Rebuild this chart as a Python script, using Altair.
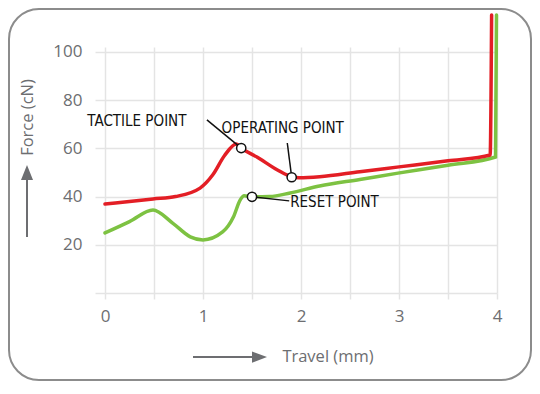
import altair as alt
import pandas as pd

# ---- data ----
press_x = [0, 0.49, 0.72, 0.97, 1.1, 1.22, 1.34, 1.39, 1.55, 1.76, 1.91, 1.98, 2.19, 2.6, 3.0, 3.5, 3.93, 3.945]
press_y = [36.9, 39.0, 40.0, 43.5, 49.0, 57.0, 61.8, 60.1, 56.4, 51.0, 48.1, 47.8, 48.2, 50.3, 52.3, 54.8, 57.2, 115.3]

release_x = [0, 0.25, 0.49, 0.69, 0.87, 1.0, 1.2, 1.31, 1.38, 1.42, 1.5, 1.68, 1.89, 2.19, 2.6, 2.99, 3.5, 3.985, 3.995]
release_y = [24.9, 29.6, 34.4, 29.0, 23.3, 22.0, 25.3, 31.5, 38.6, 40.3, 39.9, 40.0, 41.5, 44.4, 47.1, 49.7, 53.0, 56.4, 115.3]

point_label = ["TACTILE POINT", "OPERATING POINT", "RESET POINT"]
point_x = [1.39, 1.905, 1.50]
point_y = [60.1, 48.0, 39.9]
label_x = [-0.18, 1.19, 1.89]
label_y = [71.3, 68.6, 37.9]
leader_x = [1.04, 1.86, 1.88]
leader_y = [71.8, 62.2, 38.2]

x_ticks = [0, 0.5, 1, 1.5, 2, 2.5, 3, 3.5, 4]
y_ticks = [0, 20, 40, 60, 80, 100]

x_title = "Travel (mm)"
y_title = "Force (cN)"

# ---- styles ----
GRID = "#e4e4e4"
LBL = "#6d6e71"
RED = "#e31e25"
GREEN = "#7dc242"
AXFONT = "Open Sans"
ANFONT = "Liberation Sans Narrow, DejaVu Sans Condensed, sans-serif"

rows = []
for i, (x, y) in enumerate(zip(release_x, release_y)):
    rows.append({"x": x, "y": y, "series": "Release", "idx": i})
for i, (x, y) in enumerate(zip(press_x, press_y)):
    rows.append({"x": x, "y": y, "series": "Press", "idx": i})
lines_df = pd.DataFrame(rows)

ann_df = pd.DataFrame({
    "label": point_label, "x": point_x, "y": point_y,
    "lx": label_x, "ly": label_y, "qx": leader_x, "qy": leader_y,
})

xscale = alt.Scale(domain=[0, 4], nice=False)
yscale = alt.Scale(domain=[0, 102], nice=False, zero=False)

xaxis = alt.Axis(values=x_ticks,
                 labelExpr="datum.value % 1 === 0 ? format(datum.value, 'd') : ''",
                 grid=True, gridColor=GRID, gridWidth=1.5,
                 ticks=True, tickColor=GRID, tickWidth=1.5, tickSize=6,
                 domain=False, labelFont=AXFONT, labelFontSize=17, labelColor=LBL,
                 labelPadding=9, labelFlush=False, title=None)
yaxis = alt.Axis(values=y_ticks,
                 labelExpr="datum.value === 0 ? '' : format(datum.value, 'd')",
                 grid=True, gridColor=GRID, gridWidth=1.5,
                 ticks=True, tickColor=GRID, tickWidth=1.5, tickSize=10,
                 domain=False, labelFont=AXFONT, labelFontSize=17, labelColor=LBL,
                 labelPadding=13, labelFlush=False, title=None)

one = pd.DataFrame({"a": [0]})

border = alt.Chart(one).mark_rect(
    fillOpacity=0, stroke="#8c8c8c", strokeWidth=2, cornerRadius=30
).encode(x=alt.value(-96), x2=alt.value(426), y=alt.value(-38), y2=alt.value(333))

lines = alt.Chart(lines_df).mark_line(
    interpolate="monotone", strokeWidth=3.5, strokeCap="round"
).encode(
    x=alt.X("x:Q", scale=xscale, axis=xaxis),
    y=alt.Y("y:Q", scale=yscale, axis=yaxis),
    color=alt.Color("series:N", scale=alt.Scale(domain=["Release", "Press"], range=[GREEN, RED]), legend=None),
    detail="series:N",
    order=alt.Order("idx:Q"),
)

leaders = alt.Chart(ann_df).mark_rule(color="#111111", strokeWidth=1.5).encode(
    x="x:Q", y="y:Q", x2="qx:Q", y2="qy:Q"
)

markers = alt.Chart(ann_df).mark_point(
    shape="circle", filled=True, fill="white", stroke="#111111", strokeWidth=1.5, size=85, opacity=1
).encode(x="x:Q", y="y:Q")

labels = alt.Chart(ann_df).mark_text(
    align="left", baseline="middle", font=ANFONT, fontSize=15, color="#111111"
).encode(x=alt.X("lx:Q"), y=alt.Y("ly:Q"), text="label:N")

ytitle = alt.Chart(one).mark_text(
    text=y_title, angle=270, align="center", baseline="middle",
    font=AXFONT, fontSize=16.5, color=LBL
).encode(x=alt.value(-77.5), y=alt.value(70.5))

xtitle = alt.Chart(one).mark_text(
    text=x_title, align="center", baseline="middle",
    font=AXFONT, fontSize=16.5, color=LBL
).encode(x=alt.value(223), y=alt.value(310))

yarrow_line = alt.Chart(one).mark_rule(color=LBL, strokeWidth=2).encode(
    x=alt.value(-78), y=alt.value(130), y2=alt.value(190)
)
yarrow_head = alt.Chart(one).mark_point(
    shape="M0,-1L0.8,1L-0.8,1Z", filled=True, fill=LBL, stroke=None, size=225, opacity=1
).encode(x=alt.value(-78), y=alt.value(125.5))

xarrow_line = alt.Chart(one).mark_rule(color=LBL, strokeWidth=2).encode(
    x=alt.value(88), x2=alt.value(150), y=alt.value(310)
)
xarrow_head = alt.Chart(one).mark_point(
    shape="M1,0L-1,0.75L-1,-0.75Z", filled=True, fill=LBL, stroke=None, size=225, opacity=1
).encode(x=alt.value(154.5), y=alt.value(310))

chart = alt.layer(
    border, lines, leaders, markers, labels,
    ytitle, xtitle, yarrow_line, yarrow_head, xarrow_line, xarrow_head
).properties(
    width=392, height=246,
    autosize=alt.AutoSizeParams(type="none"),
    padding={"left": 97, "top": 39, "right": 35, "bottom": 89},
).configure_view(stroke=None)

chart.save("out.html", embed_options={"renderer": "svg", "actions": False})
